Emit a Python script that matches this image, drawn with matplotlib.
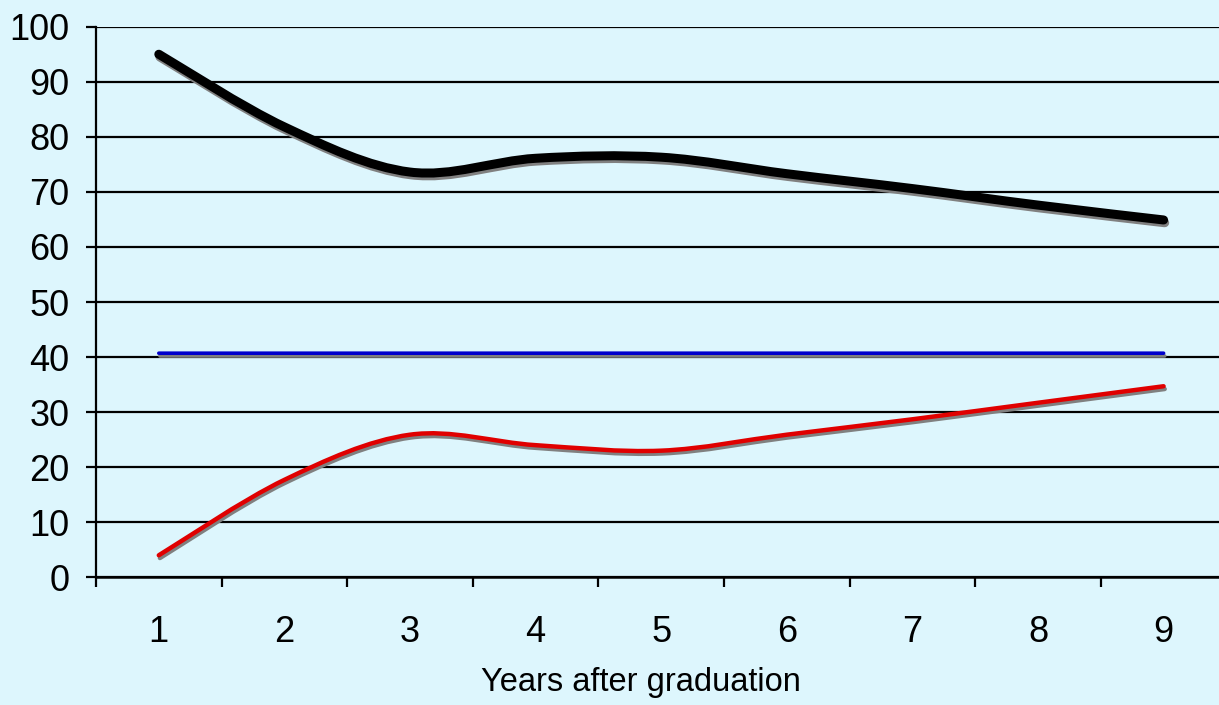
"""Years after graduation: three smoothed series with drop shadows (Excel-style)."""

import matplotlib

matplotlib.use("Agg")
import matplotlib.pyplot as plt
import matplotlib.patheffects as pe
import numpy as np
from matplotlib.patches import PathPatch
from matplotlib.path import Path

plt.rcParams["font.family"] = ["Liberation Sans", "DejaVu Sans"]

years = [1, 2, 3, 4, 5, 6, 7, 8, 9]
top_series = [95.0, 81.8, 73.6, 76.1, 76.3, 73.3, 70.6, 67.6, 64.9]
mid_series = [40.7, 40.7, 40.7, 40.7, 40.7, 40.7, 40.7, 40.7, 40.7]
low_series = [4.0, 17.7, 25.9, 24.0, 23.0, 25.9, 28.7, 31.7, 34.7]
y_ticks = [0, 10, 20, 30, 40, 50, 60, 70, 80, 90, 100]
x_label = "Years after graduation"

BG = "#DDF6FD"


def smooth_path(xs, ys):
    # Bezier through the points, tangents like Excel's "smoothed line"
    p = np.column_stack([xs, ys]).astype(float)
    ext = np.vstack([p[0], p, p[-1]])
    verts = [p[0]]
    codes = [Path.MOVETO]
    for i in range(len(p) - 1):
        c1 = ext[i + 1] + (ext[i + 2] - ext[i]) / 6.0
        c2 = ext[i + 2] - (ext[i + 3] - ext[i + 1]) / 6.0
        verts += [c1, c2, p[i + 1]]
        codes += [Path.CURVE4] * 3
    return Path(verts, codes)


fig = plt.figure(figsize=(12.19, 7.05), dpi=100, facecolor=BG)
ax = fig.add_axes([96 / 1219, 1 - 577.3 / 705, 1 - 96 / 1219, (577.3 - 26.7) / 705])
ax.set_facecolor(BG)

for ys, color, lw in [(top_series, "black", 6.5), (mid_series, "#0000CC", 2.6), (low_series, "#E00000", 3.2)]:
    patch = PathPatch(smooth_path(years, ys), fill=False, edgecolor=color, lw=lw,
                      capstyle="round", joinstyle="round", zorder=3)
    patch.set_path_effects([
        pe.SimpleLineShadow(offset=(0.8, -2.0), shadow_color="#808080", alpha=1.0),
        pe.Normal(),
    ])
    ax.add_patch(patch)

ax.set_xlim(0.5, 0.5 + (1219 - 96) / 125.6)
ax.set_ylim(0, 100)

ax.set_yticks(y_ticks)
ax.set_yticklabels([str(v) for v in y_ticks])
ax.yaxis.grid(True, color="black", lw=1.6)
ax.set_axisbelow(True)
ax.tick_params(axis="y", length=7.2, width=1.6, pad=12, labelsize=26, color="black")

# ticks between categories, labels centred on categories
ax.set_xticks([y + 0.5 for y in [0] + years[:-1]])
ax.set_xticklabels([])
ax.set_xticks(years, minor=True)
ax.set_xticklabels([str(y) for y in years], minor=True)
ax.tick_params(axis="x", which="major", length=7.5, width=1.6, direction="out")
ax.tick_params(axis="x", which="minor", length=0, pad=27, labelsize=26)

for side in ["top", "right"]:
    ax.spines[side].set_visible(False)
ax.spines["left"].set_linewidth(1.6)
ax.spines["bottom"].set_linewidth(1.8)

fig.text(641 / 1219, 1 - 683 / 705, x_label, ha="center", va="center", fontsize=23.5)

fig.savefig("out.png", dpi=100, facecolor=BG)
